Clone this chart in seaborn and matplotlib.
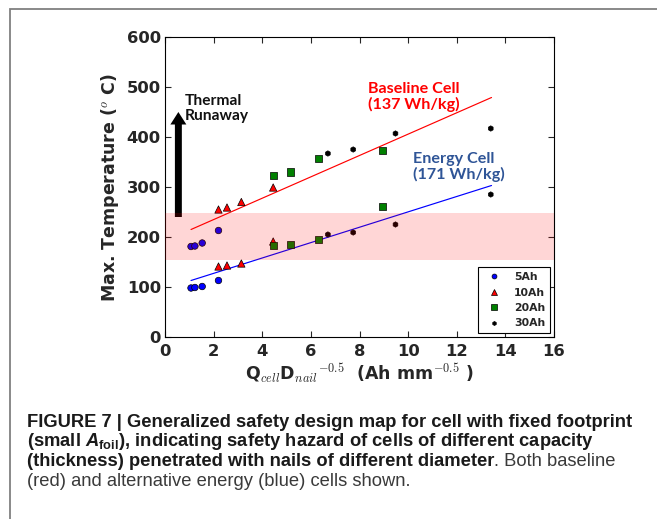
import numpy as np
import pandas as pd
import matplotlib
matplotlib.use("Agg")
import matplotlib.pyplot as plt
import seaborn as sns
from matplotlib.patches import Rectangle

# ---------------- data ----------------
series_labels = ["5Ah", "10Ah", "20Ah", "30Ah"]
x_5ah = [1.07, 1.23, 1.53, 2.20, 1.07, 1.23, 1.53, 2.20]
t_5ah = [98, 99, 101, 113, 181, 182, 188, 213]
x_10ah = [2.20, 2.55, 3.14, 4.45, 2.20, 2.55, 3.14, 4.45]
t_10ah = [141, 143, 147, 191, 255, 259, 270, 299]
x_20ah = [4.45, 5.15, 6.32, 8.93, 4.45, 5.15, 6.32, 8.93]
t_20ah = [183, 185, 195, 261, 323, 330, 357, 373]
x_30ah = [6.70, 7.74, 9.48, 13.40, 6.70, 7.74, 9.48, 13.40]
t_30ah = [205, 209, 225, 285, 367, 375, 407, 417]

fit_x = [1.07, 13.43]
baseline_fit = [215, 479]
energy_fit = [113, 303]

band_limits = [155, 248]
runaway_x = 0.55
runaway_y = [240, 450]

x_ticks = list(range(0, 17, 2))
y_ticks = list(range(0, 601, 100))

# ---------------- style ----------------
sns.set_style("ticks")
plt.rcParams["font.family"] = ["DejaVu Sans"]
plt.rcParams["mathtext.fontset"] = "cm"

fig = plt.figure(figsize=(6.57, 5.19), dpi=100)
W, H = 657.0, 519.0
ax = fig.add_axes([165 / W, 1 - 337 / H, (554 - 165) / W, 300 / H])

# fit lines
sns.lineplot(x=fit_x, y=baseline_fit, color="red", lw=0.85, ax=ax, legend=False, zorder=2)
sns.lineplot(x=fit_x, y=energy_fit, color="blue", lw=0.85, ax=ax, legend=False, zorder=2)

# scatter points
df = pd.concat([
    pd.DataFrame({"x": x_5ah, "t": t_5ah, "series": "5Ah"}),
    pd.DataFrame({"x": x_10ah, "t": t_10ah, "series": "10Ah"}),
    pd.DataFrame({"x": x_20ah, "t": t_20ah, "series": "20Ah"}),
    pd.DataFrame({"x": x_30ah, "t": t_30ah, "series": "30Ah"}),
], ignore_index=True)

palette = {"5Ah": "#0000ff", "10Ah": "#ff0000", "20Ah": "#008000", "30Ah": "#000000"}
markers = {"5Ah": "o", "10Ah": "^", "20Ah": "s", "30Ah": "h"}
sizes = {"5Ah": 22, "10Ah": 28, "20Ah": 26, "30Ah": 15}
sns.scatterplot(data=df, x="x", y="t", hue="series", style="series", size="series",
                hue_order=series_labels, style_order=series_labels, size_order=series_labels,
                palette=palette, markers=markers, sizes=sizes,
                edgecolor="black", linewidth=0.5, ax=ax, zorder=3)

# thermal runaway arrow
ax.annotate("", xy=(runaway_x, runaway_y[1]), xytext=(runaway_x, runaway_y[0]),
            arrowprops=dict(arrowstyle="simple,tail_width=0.5,head_width=1.15,head_length=0.9",
                            mutation_scale=10, color="black", lw=0, shrinkA=0, shrinkB=0),
            zorder=2)

# pink band on top (semi-transparent)
ax.axhspan(band_limits[0], band_limits[1], color="red", alpha=0.16, lw=0, zorder=5)

# annotations
ann_font = "Lato"
ax.text(0.82, 457, "Thermal\nRunaway", ha="left", va="center", fontsize=11.2,
        fontweight="bold", family=ann_font, color="#111111", linespacing=1.1)
ax.text(8.36, 480, "Baseline Cell\n(137 Wh/kg)", ha="left", va="center", fontsize=11.6,
        fontweight="bold", family=ann_font, color="#ff0000", linespacing=1.1)
ax.text(10.21, 340, "Energy Cell\n(171 Wh/kg)", ha="left", va="center", fontsize=11.6,
        fontweight="bold", family=ann_font, color="#2f5597", linespacing=1.1)

# axes formatting
ax.set_xlim(0, 16)
ax.set_ylim(0, 600)
ax.set_xticks(x_ticks)
ax.set_yticks(y_ticks)
ax.tick_params(direction="in", top=True, right=True, length=4, width=0.8,
               labelsize=11.8, pad=5)
ax.tick_params(axis="y", pad=3)
for lbl in ax.get_xticklabels() + ax.get_yticklabels():
    lbl.set_fontweight("bold")
for sp in ax.spines.values():
    sp.set_visible(True)
    sp.set_linewidth(0.8)
    sp.set_color("black")

ax.set_xlabel(r"Q$_{cell}$D$_{nail}$$^{-0.5}$  (Ah mm$^{-0.5}$ )", fontsize=12.5,
              fontweight="bold", labelpad=2)
ax.set_ylabel(r"Max. Temperature ($^o$ C)", fontsize=12.5, fontweight="bold", labelpad=4)

handles, labels = ax.get_legend_handles_labels()
leg = ax.legend(handles, labels, loc="lower right", frameon=True,
                fancybox=False, framealpha=1, edgecolor="black", borderpad=0.45,
                labelspacing=0.5, handlelength=2.0, handletextpad=0.9,
                borderaxespad=0.35, prop={"weight": "bold", "size": 7.8}, markerscale=0.75)
leg.get_frame().set_linewidth(0.8)

# frame of the figure panel
fig.add_artist(Rectangle((10 / W, -0.5), 2.0, (1 - 9 / H) + 0.5, fill=False,
                         edgecolor="#808080", lw=1.3, transform=fig.transFigure))

# caption
cap_font = "Liberation Sans"
cap_x = 27 / W
fs = 11.5
t1 = fig.text(cap_x, 1 - 426.7 / H,
              "FIGURE 7 | Generalized safety design map for cell with fixed footprint",
              fontsize=fs, fontweight="bold", family=cap_font, va="baseline", color="#1a1a1a")
fig.canvas.draw()
r = fig.canvas.get_renderer()
wpx = t1.get_window_extent(r).width
fs = fs * 610.0 / wpx
t1.set_fontsize(fs)

plt.rcParams["mathtext.bf"] = "Liberation Sans:bold"
plt.rcParams["mathtext.rm"] = "Liberation Sans:bold"
plt.rcParams["mathtext.bfit"] = "Liberation Sans:italic:bold"
line2 = r"(small $\mathbfit{A}_{\mathbf{foil}}$), indicating safety hazard of cells of different capacity"
fig.text(cap_x, 1 - 446.5 / H, line2, fontsize=fs, fontweight="bold", family=cap_font,
         va="baseline", color="#1a1a1a", math_fontfamily="custom")
t3 = fig.text(cap_x, 1 - 466 / H, "(thickness) penetrated with nails of different diameter",
              fontsize=fs, fontweight="bold", family=cap_font, va="baseline", color="#1a1a1a")
ax.annotate(". Both baseline", xy=(1, 0), xycoords=t3, va="bottom", ha="left",
            fontsize=fs, family=cap_font, color="#3a3a3a", annotation_clip=False)
fig.text(cap_x, 1 - 485.5 / H, "(red) and alternative energy (blue) cells shown.",
         fontsize=fs, family=cap_font, va="baseline", color="#3a3a3a")

fig.savefig("out.png", dpi=100)
